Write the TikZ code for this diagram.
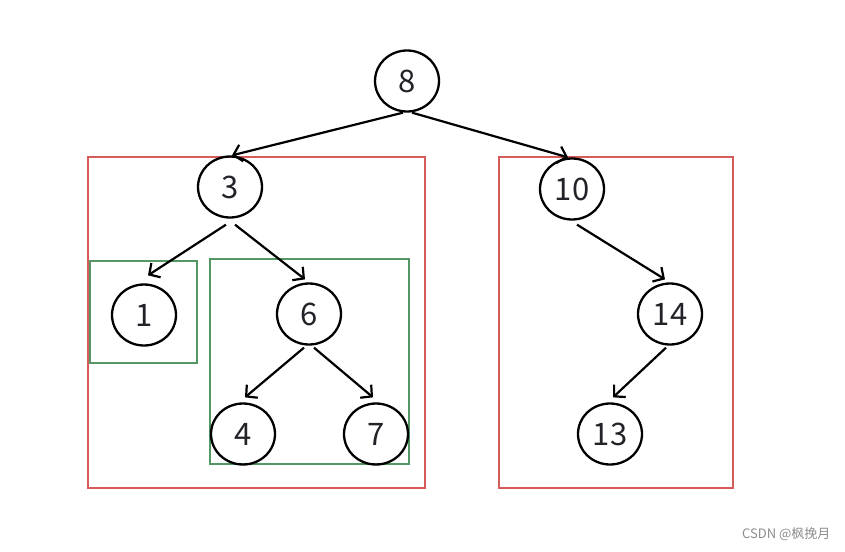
\documentclass[tikz,border=0pt]{standalone}
\usepackage{fontspec}
\setmainfont{Noto Sans}
\newfontfamily\cjk{Noto Sans CJK SC}
\usetikzlibrary{shapes.geometric,arrows.meta}
\definecolor{boxred}{RGB}{214,92,92}
\definecolor{boxgreen}{RGB}{84,150,100}
\definecolor{txt}{RGB}{34,34,40}
\tikzset{
  tn/.style={ellipse,draw=black,line width=2.3pt,minimum width=64pt,minimum height=61pt,inner sep=0pt,
    text=txt,font=\cjk\fontsize{31}{36}\selectfont},
  edge/.style={draw=black,line width=2.2pt,-{Straight Barb[length=8pt,width=17pt,line width=2.2pt]}},
  redbox/.style={draw=boxred,line width=2.2pt},
  greenbox/.style={draw=boxgreen,line width=2.2pt},
}
\begin{document}
\begin{tikzpicture}[x=1pt,y=-1pt]
\useasboundingbox (0,0) rectangle (845,551);
\draw[redbox] (88,157) rectangle (425,488);
\draw[redbox] (499,157) rectangle (733,488);
\draw[greenbox] (90,261) rectangle (197,363);
\draw[greenbox] (210,259) rectangle (409,464);
\node[tn] (n8) at (407,81) {8};
\node[tn] (n3) at (230,187) {3};
\node[tn] (n10) at (572,189) {10};
\node[tn] (n1) at (144,315) {1};
\node[tn] (n6) at (309,314) {6};
\node[tn] (n14) at (670,314) {14};
\node[tn] (n4) at (243,434) {4};
\node[tn] (n7) at (376,434) {7};
\node[tn] (n13) at (610,434) {13};
\draw[edge] ([xshift=-4pt]n8.south) -- ([xshift=2pt]n3.north);
\draw[edge] ([xshift=5pt]n8.south) -- ([xshift=-4pt]n10.north);
\draw[edge] ([xshift=-4pt,yshift=-6pt]n3.south) -- ([xshift=4pt,yshift=8pt]n1.north);
\draw[edge] ([xshift=5pt,yshift=-6pt]n3.south) -- ([xshift=-4pt,yshift=3pt]n6.north);
\draw[edge] ([xshift=-5pt,yshift=-2pt]n6.south) -- ([xshift=2pt,yshift=5pt]n4.north);
\draw[edge] ([xshift=5pt,yshift=-2pt]n6.south) -- ([xshift=-3pt,yshift=5pt]n7.north);
\draw[edge] ([xshift=5pt,yshift=-4pt]n10.south) -- ([xshift=-5pt,yshift=3pt]n14.north);
\draw[edge] ([xshift=-4pt,yshift=-2pt]n14.south) -- ([xshift=3pt,yshift=5pt]n13.north);
\node[text=black!45,font=\cjk\fontsize{13}{15}\selectfont,anchor=east] (wm) at (834,534) {CSDN @枫挽月};
\end{tikzpicture}
\end{document}
